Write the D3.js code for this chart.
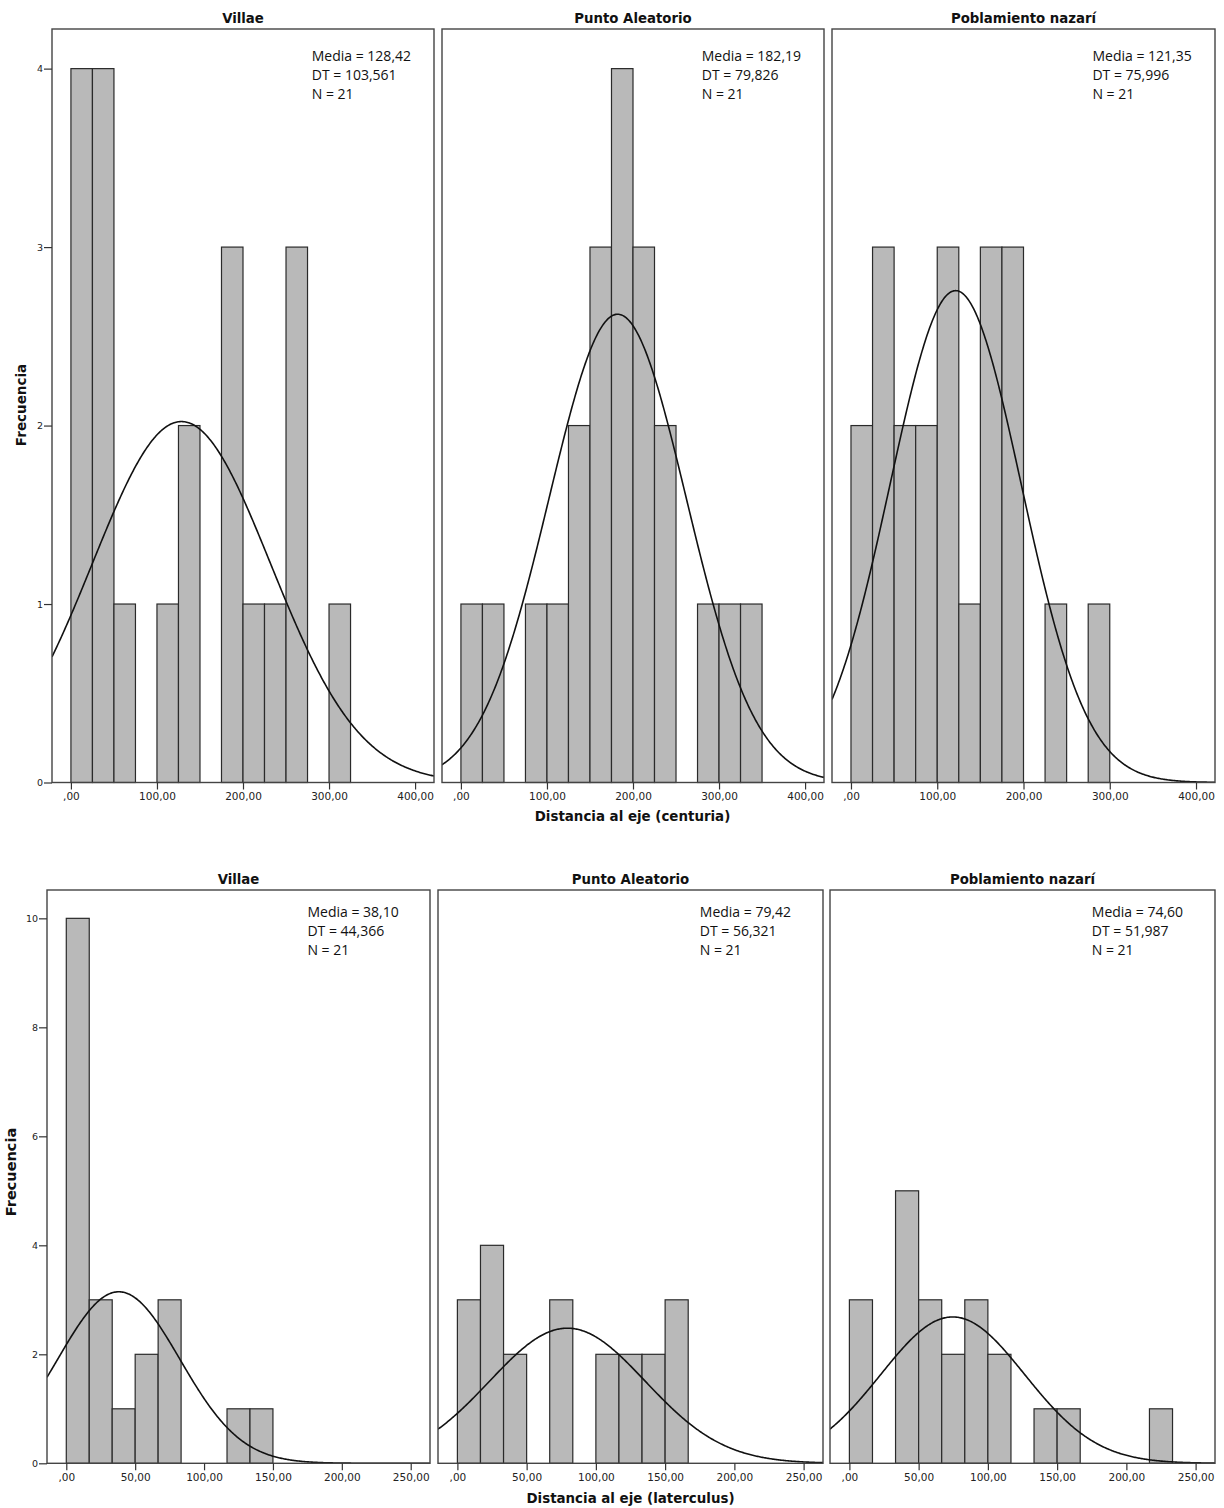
<!DOCTYPE html>
<html>
<head>
<meta charset="utf-8">
<script src="https://cdn.jsdelivr.net/npm/d3@7"></script>
<style>
  html, body { margin: 0; padding: 0; background: #fff; }
  svg { display: block; }
</style>
</head>
<body>
<svg id="chart" width="1224" height="1508"></svg>
<script>
// ---------------- DATA ----------------
const panelTitles = ["Villae", "Punto Aleatorio", "Poblamiento nazarí"];

// Distancia al eje (centuria) — bin width 25
const centuriaBinWidth = 25;
const centuriaVillae = [4, 4, 1, 0, 1, 2, 0, 3, 1, 1, 3, 0, 1];
const centuriaPunto  = [1, 1, 0, 1, 1, 2, 3, 4, 3, 2, 0, 1, 1, 1];
const centuriaNazari = [2, 3, 2, 2, 3, 1, 3, 3, 0, 1, 0, 1];
const centuriaMeans  = [128.42, 182.19, 121.35];
const centuriaSDs    = [103.561, 79.826, 75.996];
const centuriaN      = [21, 21, 21];
const centuriaXTicks = [0, 100, 200, 300, 400];
const centuriaXTickLabels = [",00", "100,00", "200,00", "300,00", "400,00"];
const centuriaYTicks = [0, 1, 2, 3, 4];
const centuriaAxisTitle = "Distancia al eje (centuria)";

// Distancia al eje (laterculus) — bin width 50/3
const laterculusBinWidth = 50 / 3;
const laterculusVillae = [10, 3, 1, 2, 3, 0, 0, 1, 1];
const laterculusPunto  = [3, 4, 2, 0, 3, 0, 2, 2, 2, 3];
const laterculusNazari = [3, 0, 5, 3, 2, 3, 2, 0, 1, 1, 0, 0, 0, 1];
const laterculusMeans  = [38.10, 79.42, 74.60];
const laterculusSDs    = [44.366, 56.321, 51.987];
const laterculusN      = [21, 21, 21];
const laterculusXTicks = [0, 50, 100, 150, 200, 250];
const laterculusXTickLabels = [",00", "50,00", "100,00", "150,00", "200,00", "250,00"];
const laterculusYTicks = [0, 2, 4, 6, 8, 10];
const laterculusAxisTitle = "Distancia al eje (laterculus)";

const yAxisTitle = "Frecuencia";

// ---------------- LAYOUT ----------------
const rows = [
  {
    counts: [centuriaVillae, centuriaPunto, centuriaNazari],
    bw: centuriaBinWidth, means: centuriaMeans, sds: centuriaSDs, ns: centuriaN,
    xTicks: centuriaXTicks, xLabels: centuriaXTickLabels, yTicks: centuriaYTicks,
    axisTitle: centuriaAxisTitle,
    top: 29, bottom: 782.5, yMax: 4.222,
    xDomain: [-22, 422],
    panels: [[52, 434], [442, 824], [832, 1215]],
    titleY: 23, statsY: 61, axisTitleY: 821, axisTitleX: 632.5,
    yTitleX: 21, yTitleY: 405, yTitleSize: 13.5
  },
  {
    counts: [laterculusVillae, laterculusPunto, laterculusNazari],
    bw: laterculusBinWidth, means: laterculusMeans, sds: laterculusSDs, ns: laterculusN,
    xTicks: laterculusXTicks, xLabels: laterculusXTickLabels, yTicks: laterculusYTicks,
    axisTitle: laterculusAxisTitle,
    top: 890, bottom: 1463.3, yMax: 10.52,
    xDomain: [-14, 264],
    panels: [[47, 430], [438, 823], [830, 1215]],
    titleY: 884, statsY: 917, axisTitleY: 1503, axisTitleX: 630.5,
    yTitleX: 11, yTitleY: 1172, yTitleSize: 14.5
  }
];

const svg = d3.select("#chart");
const fmtStat = (v, d) => v.toFixed(d).replace(".", ",");

rows.forEach((row, ri) => {
  const y = d3.scaleLinear().domain([0, row.yMax]).range([row.bottom, row.top]);

  row.panels.forEach((px, pi) => {
    const g = svg.append("g");
    const x = d3.scaleLinear().domain(row.xDomain).range(px);
    const clipId = `clip-${ri}-${pi}`;
    g.append("clipPath").attr("id", clipId)
      .append("rect")
      .attr("x", px[0]).attr("y", row.top)
      .attr("width", px[1] - px[0]).attr("height", row.bottom - row.top);

    // bars
    const bins = row.counts[pi].map((c, i) => ({ x0: i * row.bw, x1: (i + 1) * row.bw, c }))
      .filter(d => d.c > 0);
    g.append("g").selectAll("rect").data(bins).join("rect")
      .attr("x", d => x(d.x0))
      .attr("y", d => y(d.c))
      .attr("width", d => x(d.x1) - x(d.x0))
      .attr("height", d => y(0) - y(d.c))
      .attr("fill", "#b9b9b9")
      .attr("stroke", "#2a2a2a")
      .attr("stroke-width", 1.2);

    // fitted normal curve
    const mu = row.means[pi], sd = row.sds[pi], n = row.ns[pi];
    const pdf = v => n * row.bw / (sd * Math.sqrt(2 * Math.PI)) * Math.exp(-0.5 * ((v - mu) / sd) ** 2);
    const xs = d3.range(row.xDomain[0], row.xDomain[1] + 0.001, (row.xDomain[1] - row.xDomain[0]) / 400);
    g.append("path")
      .attr("clip-path", `url(#${clipId})`)
      .attr("d", d3.line().x(v => x(v)).y(v => y(pdf(v))).curve(d3.curveLinear)(xs))
      .attr("fill", "none")
      .attr("stroke", "#111")
      .attr("stroke-width", 1.6);

    // frame
    g.append("rect")
      .attr("x", px[0]).attr("y", row.top)
      .attr("width", px[1] - px[0]).attr("height", row.bottom - row.top)
      .attr("fill", "none")
      .attr("stroke", "#444")
      .attr("stroke-width", 1.4);

    // x axis
    const xAxis = d3.axisBottom(x)
      .tickValues(row.xTicks)
      .tickFormat((d, i) => row.xLabels[i])
      .tickSize(7).tickPadding(3).tickSizeOuter(0);
    const xa = g.append("g").attr("transform", `translate(0,${row.bottom})`).call(xAxis);
    xa.select(".domain").remove();
    xa.selectAll(".tick line").attr("stroke", "#333").attr("stroke-width", 1.2);
    xa.selectAll(".tick text")
      .attr("font-family", "DejaVu Sans, sans-serif")
      .attr("font-size", 10.5).attr("fill", "#222");

    // y axis (first panel only)
    if (pi === 0) {
      const yAxis = d3.axisLeft(y).tickValues(row.yTicks).tickFormat(d3.format("d"))
        .tickSize(8).tickPadding(1).tickSizeOuter(0);
      const ya = g.append("g").attr("transform", `translate(${px[0]},0)`).call(yAxis);
      ya.select(".domain").remove();
      ya.selectAll(".tick line").attr("stroke", "#333").attr("stroke-width", 1.2);
      ya.selectAll(".tick text")
        .attr("font-family", "DejaVu Sans, sans-serif")
        .attr("font-size", 9.5).attr("fill", "#222");
    }

    // panel title
    g.append("text")
      .attr("x", (px[0] + px[1]) / 2).attr("y", row.titleY)
      .attr("text-anchor", "middle")
      .attr("font-family", "DejaVu Sans, sans-serif")
      .attr("font-weight", "bold").attr("font-size", 13.3)
      .attr("fill", "#111")
      .text(panelTitles[pi]);

    // stats text
    const sx = px[0] + 0.68 * (px[1] - px[0]);
    const lines = [
      `Media = ${fmtStat(mu, 2)}`,
      `DT = ${fmtStat(sd, 3)}`,
      `N = ${n}`
    ];
    g.append("g").selectAll("text").data(lines).join("text")
      .attr("x", sx).attr("y", (d, i) => row.statsY + i * 19)
      .attr("font-family", "Open Sans, sans-serif")
      .attr("font-size", 14).attr("fill", "#111")
      .text(d => d);
  });

  // x axis title
  svg.append("text")
    .attr("x", row.axisTitleX).attr("y", row.axisTitleY)
    .attr("text-anchor", "middle")
    .attr("font-family", "DejaVu Sans, sans-serif")
    .attr("font-weight", "bold").attr("font-size", 13.4)
    .attr("fill", "#111")
    .text(row.axisTitle);

  // y axis title
  svg.append("text")
    .attr("transform", `translate(${row.yTitleX},${row.yTitleY}) rotate(-90)`)
    .attr("text-anchor", "middle")
    .attr("dominant-baseline", "central")
    .attr("font-family", "DejaVu Sans, sans-serif")
    .attr("font-weight", "bold").attr("font-size", row.yTitleSize)
    .attr("fill", "#111")
    .text(yAxisTitle);
});
</script>
</body>
</html>
